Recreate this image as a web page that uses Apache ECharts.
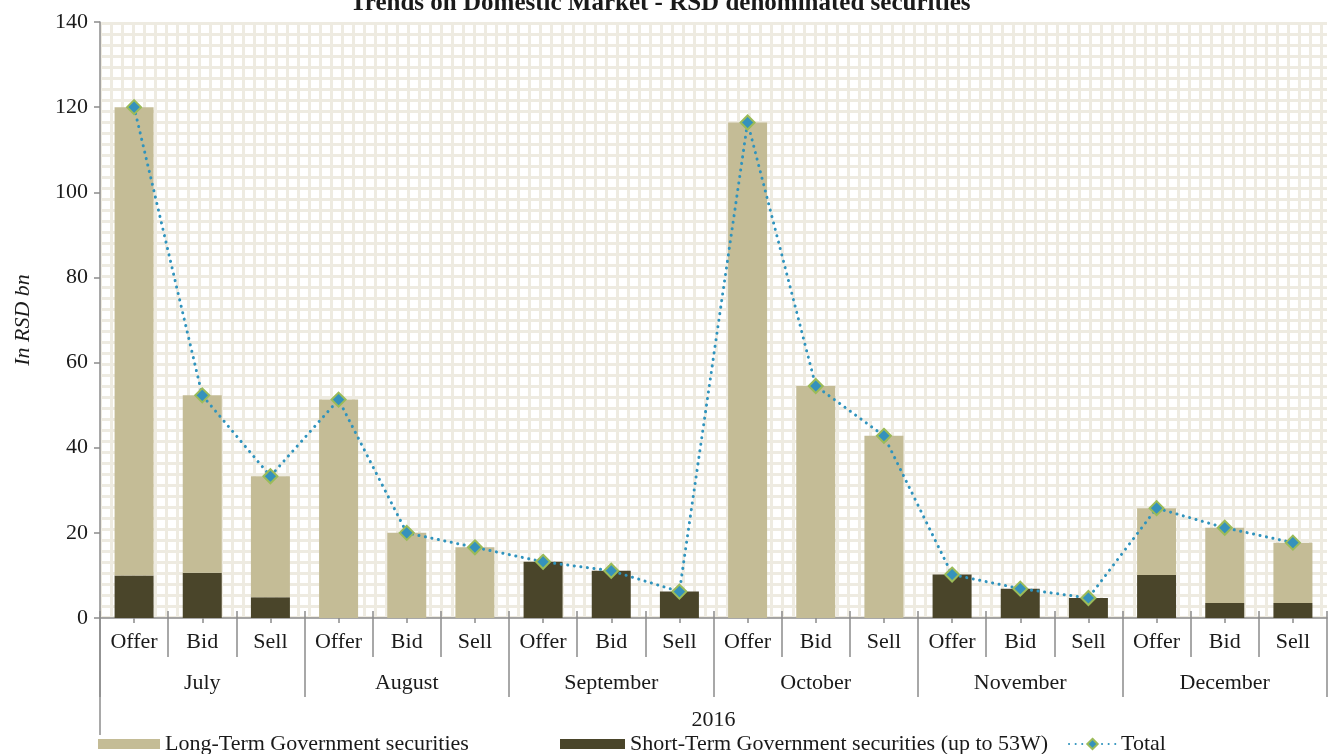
<!DOCTYPE html>
<html>
<head>
<meta charset="utf-8">
<script src="https://cdn.jsdelivr.net/npm/echarts@6/dist/echarts.min.js"></script>
<style>html,body{margin:0;padding:0;background:#fff}#c{width:1333px;height:754px}</style>
</head>
<body>
<div id="c"></div>
<script>
var subCats = ['Offer','Bid','Sell','Offer','Bid','Sell','Offer','Bid','Sell','Offer','Bid','Sell','Offer','Bid','Sell','Offer','Bid','Sell'];
var months = ['July','August','September','October','November','December'];
var yearLabel = '2016';
var shortTerm = [10.0, 10.6, 4.9, 0, 0, 0, 13.2, 11.1, 6.2, 0, 0, 0, 10.2, 6.9, 4.7, 10.1, 3.5, 3.5];
var longTerm  = [110.0, 41.7, 28.4, 51.3, 20.0, 16.6, 0, 0, 0, 116.4, 54.5, 42.8, 0, 0, 0, 15.7, 17.7, 14.2];
var total     = [120.0, 52.3, 33.3, 51.3, 20.0, 16.6, 13.2, 11.1, 6.2, 116.4, 54.5, 42.8, 10.2, 6.9, 4.7, 25.8, 21.2, 17.7];
var yTicks = [0, 20, 40, 60, 80, 100, 120, 140];

var FONT = 'Liberation Serif';
var TXT = '#1a1a1a';
var AX = '#8c8c8c';
var FS = 22;

// grid background pattern
var pc = document.createElement('canvas');
pc.width = 11; pc.height = 11;
var g = pc.getContext('2d');
g.fillStyle = '#ffffff'; g.fillRect(0,0,11,11);
g.fillStyle = '#EEEBE1';
g.fillRect(0,0,11,3);
g.fillRect(0,0,3,11);

var chart = echarts.init(document.getElementById('c'), null, {renderer:'canvas'});
var halfCats = []; for (var i=0;i<subCats.length*2;i++) halfCats.push('');

chart.setOption({
  animation: false,
  title: {
    text: 'Trends on Domestic Market - RSD denominated securities',
    left: 345, top: -14,
    textStyle: {fontFamily: FONT, fontWeight: 'bold', fontSize: 25, color: TXT}
  },
  grid: {left: 100, right: 6, top: 22, bottom: 136, show: true, borderWidth: 0,
         backgroundColor: {image: pc, repeat: 'repeat'}},
  legend: [
    {data: ['Long-Term Government securities'], left: 93, top: 728, itemWidth: 62, itemHeight: 10, icon: 'rect',
     textStyle: {fontFamily: FONT, fontSize: FS, color: TXT}},
    {data: ['Short-Term Government securities (up to 53W)'], left: 555, top: 728, itemWidth: 65, itemHeight: 10, icon: 'rect',
     textStyle: {fontFamily: FONT, fontSize: FS, color: TXT}},
    {data: ['Total'], left: 1063, top: 728, itemWidth: 47, itemHeight: 13,
     textStyle: {fontFamily: FONT, fontSize: FS, color: TXT}}
  ],
  xAxis: [
    {type: 'category', data: subCats, position: 'bottom',
     axisLine: {lineStyle: {color: AX, width: 1.5}},
     axisTick: {show: true, interval: 0, length: 39, lineStyle: {color: AX, width: 1.5}},
     axisLabel: {interval: 0, margin: 13, fontFamily: FONT, fontSize: FS, color: TXT}},
    {type: 'category', data: months, position: 'bottom',
     name: yearLabel, nameLocation: 'middle', nameGap: 91,
     nameTextStyle: {fontFamily: FONT, fontSize: FS, color: TXT},
     axisLine: {show: false},
     axisTick: {show: true, interval: 0, length: 79, lineStyle: {color: AX, width: 1.5}},
     axisLabel: {interval: 0, margin: 54, fontFamily: FONT, fontSize: FS, color: TXT}},
    {type: 'category', data: halfCats, position: 'bottom',
     axisLine: {show: false}, axisLabel: {show: false},
     axisTick: {show: true, interval: 0, inside: true, length: 7, lineStyle: {color: AX, width: 1.5}}},
    {type: 'category', data: subCats, position: 'bottom',
     axisLine: {show: false}, axisLabel: {show: false},
     axisTick: {show: true, interval: 0, alignWithLabel: true, length: 5, lineStyle: {color: AX, width: 1.5}}}
  ],
  yAxis: {
    type: 'value', min: 0, max: 140, interval: 20,
    name: 'In RSD bn', nameLocation: 'middle', nameGap: 66,
    nameTextStyle: {fontFamily: FONT, fontSize: FS, fontStyle: 'italic', color: TXT},
    axisLine: {show: true, lineStyle: {color: AX, width: 1.5}},
    axisTick: {show: true, length: 6, lineStyle: {color: AX, width: 1.5}},
    splitLine: {show: false},
    axisLabel: {fontFamily: FONT, fontSize: FS, color: TXT, margin: 12,
      formatter: function(v){ return yTicks.indexOf(v) >= 0 ? String(v) : ''; }}
  },
  graphic: [
    {type: 'line', shape: {x1: 100, y1: 618, x2: 100, y2: 735}, style: {stroke: AX, lineWidth: 1.5}, z: 10}
  ],
  series: [
    {name: 'Short-Term Government securities (up to 53W)', type: 'bar', stack: 's', data: shortTerm,
     barWidth: 39, itemStyle: {color: '#4A452A'}},
    {name: 'Long-Term Government securities', type: 'bar', stack: 's', data: longTerm,
     barWidth: 39, itemStyle: {color: '#C4BC96'}},
    {name: 'Total', type: 'line', data: total, z: 5,
     symbol: 'diamond', symbolSize: 14,
     lineStyle: {color: '#2F93BD', width: 3, type: [0.1, 6.5], cap: 'round'},
     itemStyle: {color: '#3592BC', borderColor: '#9BBB59', borderWidth: 2}}
  ]
});
</script>
</body>
</html>
